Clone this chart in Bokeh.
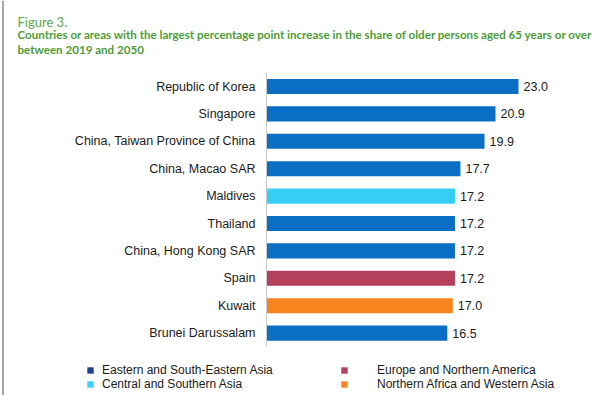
from bokeh.plotting import figure
from bokeh.models import ColumnDataSource, Legend, LegendItem, Label, Range1d, Span
from bokeh.core.properties import value
from bokeh.embed import file_html
from bokeh.resources import INLINE

# ---------------- data ----------------
categories = [
    "Republic of Korea", "Singapore", "China, Taiwan Province of China",
    "China, Macao SAR", "Maldives", "Thailand", "China, Hong Kong SAR",
    "Spain", "Kuwait", "Brunei Darussalam",
]
values = [23.0, 20.9, 19.9, 17.7, 17.2, 17.2, 17.2, 17.2, 17.0, 16.5]
ESEA = "Eastern and South-Eastern Asia"
CSA = "Central and Southern Asia"
ENA = "Europe and Northern America"
NAWA = "Northern Africa and Western Asia"
regions = [ESEA, ESEA, ESEA, ESEA, CSA, ESEA, ESEA, ENA, NAWA, ESEA]
legend_col1 = [ESEA, CSA]
legend_col2 = [ENA, NAWA]
bar_colors = {ESEA: "#0a6ec4", CSA: "#35cff5", ENA: "#b4405c", NAWA: "#f7841f"}
legend_colors = {ESEA: "#1f3f8f", CSA: "#3dcff5", ENA: "#b4405c", NAWA: "#f7841f"}
fig_label = "Figure 3."
subtitle_lines = [
    "Countries or areas with the largest percentage point increase in the share of older persons aged 65 years or over",
    "between 2019 and 2050",
]

# ---------------- layout ----------------
W, H = 603, 395
k = 252 / 23.0          # px per percentage point
zero_px = 266           # canvas x of value 0
slot = 27.4             # px per category
first_px = 86           # canvas y of first category centre

idx = list(range(len(categories)))
src = ColumnDataSource(dict(
    y=idx, v=values, cat=categories,
    lab=[f"{v:.1f}" for v in values],
    col=[bar_colors[r] for r in regions],
))

p = figure(width=W, height=H, output_backend="svg", toolbar_location=None,
           x_range=Range1d(-zero_px / k, (W - zero_px) / k),
           y_range=Range1d((H - first_px) / slot, -first_px / slot),
           x_axis_location=None, y_axis_location=None, min_border=0)
p.grid.visible = False
p.outline_line_color = None
p.background_fill_color = "white"
p.border_fill_color = "white"

# page frame line on the left
p.add_layout(Span(location=(2.5 - zero_px) / k, dimension="height",
                  line_color="#8a8a8a", line_width=1.5))

p.hbar(y="y", left=0, right="v", height=0.55, fill_color="col",
       line_color=None, source=src)

# axis line
p.segment(x0=[0], y0=[-0.5], x1=[0], y1=[len(categories) - 0.5],
          line_color="#c9c9c9", line_width=1)

font = value("Liberation Sans")
p.text(x=0, y="y", text="cat", source=src, x_offset=-11,
       text_align="right", text_baseline="middle", text_font=font,
       text_font_size="12.5px", text_color="#1a1a1a")
p.text(x="v", y="y", text="lab", source=src, x_offset=5,
       text_align="left", text_baseline="middle", text_font=font,
       text_font_size="12.5px", text_color="#1a1a1a")

# titles
p.add_layout(Label(x=17, y=H - 21, x_units="screen", y_units="screen",
                   text=fig_label, text_font="Lato",
                   text_font_size="13px", text_color="#5ea64a",
                   text_baseline="alphabetic"))
for i, line in enumerate(subtitle_lines):
    p.add_layout(Label(x=17, y=H - 34 - 15 * i, x_units="screen", y_units="screen",
                       text=line, text_font="Lato",
                       text_font_style="bold", text_font_size="11.6px",
                       text_color="#4e9c38", text_baseline="alphabetic"))

# legends
nan = float("nan")
def make_legend(names, x, standoff):
    items = []
    for n in names:
        r = p.hbar(y=[nan], right=[nan], height=0.5, fill_color=legend_colors[n],
                   line_color=None)
        items.append(LegendItem(label=n, renderers=[r]))
    lg = Legend(items=items, location=(x, 4.5), padding=0, margin=0,
                spacing=0, glyph_width=8, glyph_height=8, label_height=8,
                label_standoff=standoff, border_line_color=None,
                background_fill_alpha=0, label_text_font="Liberation Sans",
                label_text_font_size="12px", label_text_color="#1a1a1a")
    p.add_layout(lg)

make_legend(legend_col1, 86, 8)
make_legend(legend_col2, 340, 29)

open("out.html", "w").write(file_html(p, INLINE))
